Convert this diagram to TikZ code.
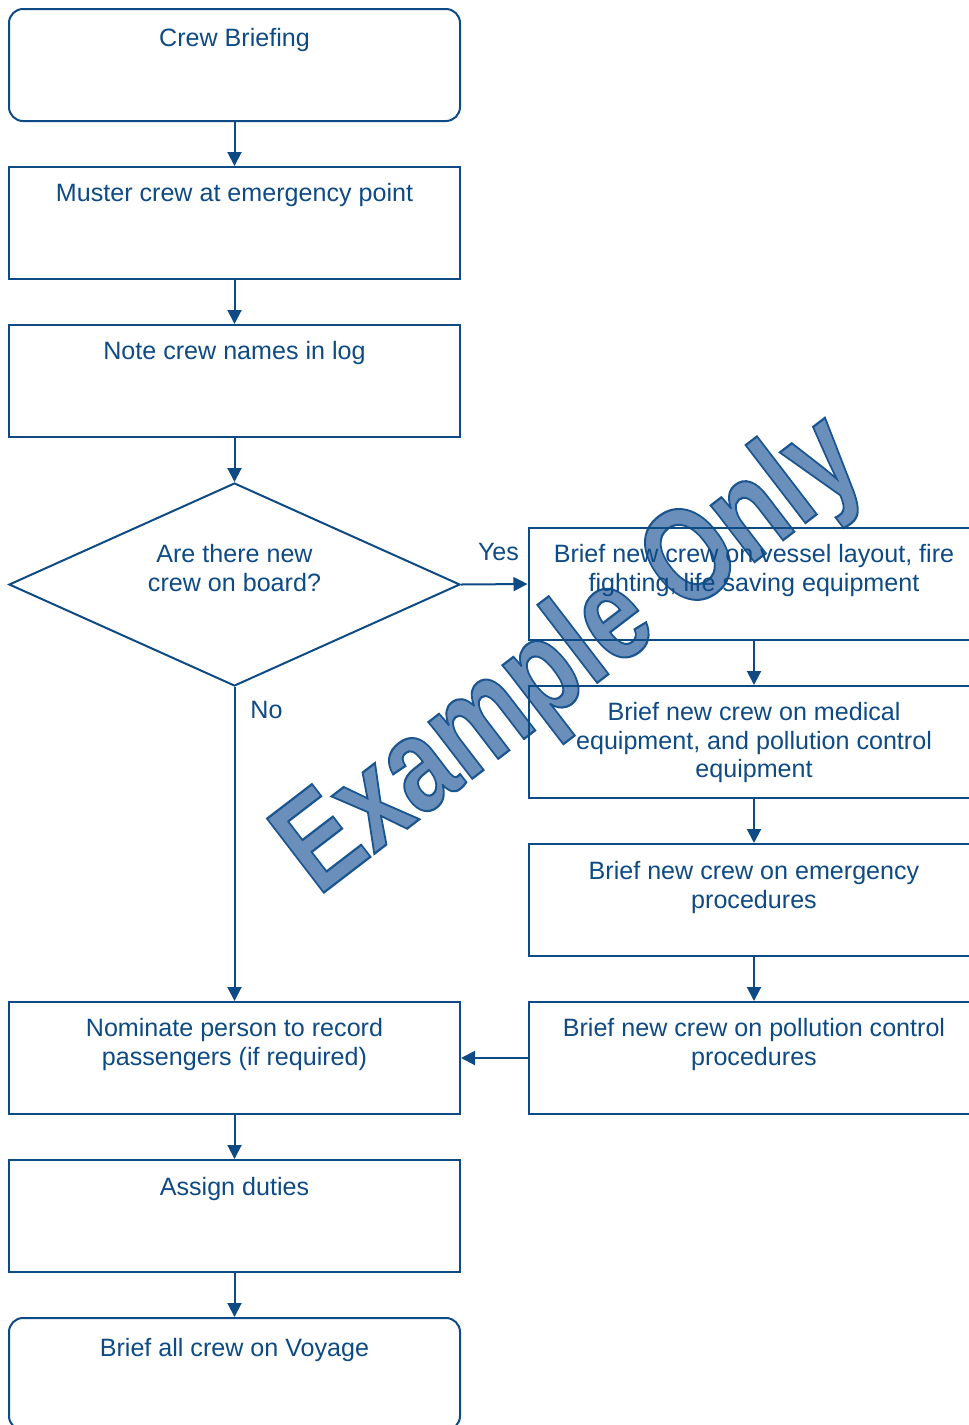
\documentclass[tikz,border=0pt]{standalone}
\usepackage{fontspec}
\setmainfont{Liberation Sans}
\usetikzlibrary{arrows.meta,shapes.geometric}
\definecolor{flowblue}{HTML}{0E4A84}
% watermark glyphs: light blue fill with a dark blue stroked outline
\newcommand{\markon}{\special{pdf:literal direct 0.416 0.561 0.729 rg 0.106 0.333 0.565 RG 2 Tr 1.7 w}}
\newcommand{\markoff}{\special{pdf:literal direct 0 Tr}}
\begin{document}
\begin{tikzpicture}[x=1pt,y=-1pt,
  stepbox/.style={draw=flowblue, line width=2pt, minimum width=451pt, minimum height=112pt, inner sep=0pt},
  endbox/.style={stepbox, rounded corners=14pt},
  decision/.style={draw=flowblue, line width=2pt, diamond, minimum width=451pt, minimum height=203pt, inner sep=0pt},
  steptext/.style={anchor=north, inner sep=0pt, align=center, text=flowblue, font=\fontsize{25.1}{28.8}\selectfont},
  flow/.style={draw=flowblue, line width=2pt, -{Triangle[length=14pt,width=14pt]}},
  ]
\useasboundingbox (0,0) rectangle (969,1425);
\clip (0,0) rectangle (969,1425);

% watermark, behind the chart
\node[anchor=base west, rotate=37.5, yscale=1.29, inner sep=0pt,
      font=\fontsize{105}{110}\selectfont\bfseries] (mark) at (318,897)
  {\markon Example Only\markoff};

% left column
\node[endbox]   (start)  at (234.5,65)   {};
\node[stepbox]  (muster) at (234.5,223)  {};
\node[stepbox]  (note)   at (234.5,381)  {};
\node[decision] (ask)    at (234.5,584.5) {};
\node[stepbox]  (nom)    at (234.5,1058) {};
\node[stepbox]  (duty)   at (234.5,1216) {};
\node[endbox]   (voyage) at (234.5,1374) {};

% right column
\node[stepbox] (fire)   at (754,584)  {};
\node[stepbox] (med)    at (754,742)  {};
\node[stepbox] (emerg)  at (754,900)  {};
\node[stepbox] (poll)   at (754,1058) {};

% texts
\node[steptext] (tstart)  at (234.5,28)  {Crew Briefing};
\node[steptext] (tmuster) at (234.5,183) {Muster crew at emergency point};
\node[steptext] (tnote)   at (234.5,341) {Note crew names in log};
\node[steptext] (task)    at (234.5,544) {Are there new\\crew on board?};
\node[steptext] (tnom)    at (234.5,1018) {Nominate person to record\\passengers (if required)};
\node[steptext] (tduty)   at (234.5,1177) {Assign duties};
\node[steptext] (tvoy)    at (234.5,1338) {Brief all crew on Voyage};
\node[steptext] (tfire)   at (754,544)  {Brief new crew on vessel layout, fire\\fighting, life saving equipment};
\node[steptext] (tmed)    at (754,702)  {Brief new crew on medical\\equipment, and pollution control\\equipment};
\node[steptext] (temerg)  at (754,861)  {Brief new crew on emergency\\procedures};
\node[steptext] (tpoll)   at (754,1018) {Brief new crew on pollution control\\procedures};
\node[steptext] (yes)     at (498.5,543) {Yes};
\node[steptext] (no)      at (266.5,701) {No};

% connectors
\draw[flow] (start) -- (muster);
\draw[flow] (muster) -- (note);
\draw[flow] (note) -- (ask);
\draw[flow] (ask.east) -- (fire.west);
\draw[flow] (ask.south) -- (nom.north);
\draw[flow] (fire) -- (med);
\draw[flow] (med) -- (emerg);
\draw[flow] (emerg) -- (poll);
\draw[flow] (poll.west) -- (nom.east);
\draw[flow] (nom) -- (duty);
\draw[flow] (duty) -- (voyage);
\end{tikzpicture}
\end{document}
